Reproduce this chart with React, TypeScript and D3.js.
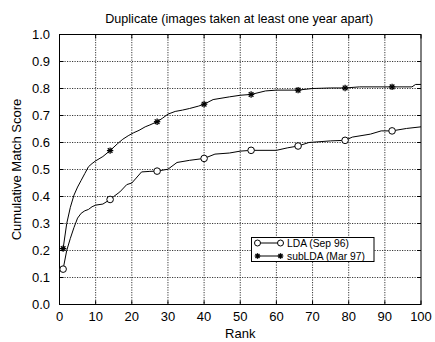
import React from "react";
import * as d3 from "d3";

const title = "Duplicate (images taken at least one year apart)";
const xLabel = "Rank";
const yLabel = "Cumulative Match Score";
const xTicks = [0, 10, 20, 30, 40, 50, 60, 70, 80, 90, 100];
const yTicks = [0, 0.1, 0.2, 0.3, 0.4, 0.5, 0.6, 0.7, 0.8, 0.9, 1.0];
const markerRanks = [1, 14, 27, 40, 53, 66, 79, 92];

const ldaRanks = [1, 2, 3, 4, 5, 6, 7, 8, 9, 10, 12, 14, 15, 16.7, 18.6, 20, 21, 22.7, 25, 27, 30, 32.5, 36, 40, 43, 47, 50, 53, 60, 63, 66, 69, 75, 79, 81, 86, 89, 92, 96, 100];
const ldaValues = [0.131, 0.2, 0.245, 0.285, 0.32, 0.338, 0.347, 0.352, 0.362, 0.368, 0.372, 0.389, 0.4, 0.417, 0.444, 0.45, 0.465, 0.491, 0.493, 0.494, 0.501, 0.526, 0.534, 0.541, 0.557, 0.561, 0.568, 0.571, 0.571, 0.58, 0.587, 0.6, 0.606, 0.608, 0.62, 0.631, 0.643, 0.643, 0.652, 0.658];

const subRanks = [1, 2, 3, 4, 5, 6, 7, 8, 9, 10, 12, 14, 16, 17.5, 19, 20.5, 22, 23.7, 25, 27, 28.5, 30, 32, 34, 36, 38.5, 40, 42.5, 47, 50, 53, 57, 60, 66, 70, 75, 79, 83, 92, 97.5, 98.5, 100];
const subValues = [0.207, 0.3, 0.36, 0.405, 0.435, 0.46, 0.485, 0.51, 0.522, 0.532, 0.548, 0.57, 0.595, 0.612, 0.625, 0.636, 0.645, 0.658, 0.665, 0.677, 0.69, 0.705, 0.715, 0.72, 0.726, 0.735, 0.742, 0.759, 0.769, 0.775, 0.778, 0.791, 0.794, 0.794, 0.8, 0.802, 0.802, 0.806, 0.806, 0.806, 0.815, 0.815];

const legendLabels = ["LDA (Sep 96)", "subLDA (Mar 97)"];

const W = 435;
const H = 342;
const FONT = "Liberation Sans, Arial, Helvetica, sans-serif";

function valueAt(ranks: number[], vals: number[], r: number) {
  const i = ranks.indexOf(r);
  if (i >= 0) return vals[i];
  const j = d3.bisectLeft(ranks, r);
  const t = (r - ranks[j - 1]) / (ranks[j] - ranks[j - 1]);
  return vals[j - 1] + t * (vals[j] - vals[j - 1]);
}

function Asterisk({ x, y, s = 3.2 }: { x: number; y: number; s?: number }) {
  const d = s * 0.72;
  return (
    <g stroke="#000" strokeWidth={1.3}>
      <line x1={x - s} y1={y} x2={x + s} y2={y} />
      <line x1={x} y1={y - s} x2={x} y2={y + s} />
      <line x1={x - d} y1={y - d} x2={x + d} y2={y + d} />
      <line x1={x - d} y1={y + d} x2={x + d} y2={y - d} />
    </g>
  );
}

export default function App() {
  const x = d3.scaleLinear().domain([0, 100]).range([59.5, 421]);
  const y = d3.scaleLinear().domain([0, 1]).range([304.5, 34.5]);
  const line = d3
    .line<[number, number]>()
    .x((d) => x(d[0]))
    .y((d) => y(d[1]));
  const ldaPts = ldaRanks.map((r, i) => [r, ldaValues[i]] as [number, number]);
  const subPts = subRanks.map((r, i) => [r, subValues[i]] as [number, number]);

  const x0 = x(0), x1 = x(100), y0 = y(0), y1 = y(1);

  const lgX = 251.5, lgY = 237.5, lgW = 122.5, lgH = 24;
  const row1 = 243, row2 = 256;
  const mA = 257.5, mB = 280.5;

  return (
    <svg width={W} height={H} style={{ position: "absolute", left: 0, top: 0, background: "#fff" }} fontFamily={FONT}>
      <rect x={0} y={0} width={W} height={H} fill="#fff" />
      <text x={(x0 + x1) / 2 - 1} y={22.5} textAnchor="middle" fontSize={12.6}>{title}</text>
      {/* grid */}
      <g stroke="#222" strokeWidth={0.9} strokeDasharray="1.2,1.3">
        {xTicks.slice(1, -1).map((t) => (
          <line key={"gx" + t} x1={x(t)} x2={x(t)} y1={y1} y2={y0} />
        ))}
        {yTicks.slice(1, -1).map((t) => (
          <line key={"gy" + t} x1={x0} x2={x1} y1={y(t)} y2={y(t)} />
        ))}
      </g>
      {/* ticks */}
      <g stroke="#000" strokeWidth={1}>
        {xTicks.map((t) => (
          <g key={"tx" + t}>
            <line x1={x(t)} x2={x(t)} y1={y0} y2={y0 - 4} />
            <line x1={x(t)} x2={x(t)} y1={y1} y2={y1 + 4} />
          </g>
        ))}
        {yTicks.map((t) => (
          <g key={"ty" + t}>
            <line x1={x0} x2={x0 + 4} y1={y(t)} y2={y(t)} />
            <line x1={x1} x2={x1 - 4} y1={y(t)} y2={y(t)} />
          </g>
        ))}
      </g>
      <rect x={x0} y={y1} width={x1 - x0} height={y0 - y1} fill="none" stroke="#000" strokeWidth={1} />
      {/* tick labels */}
      <g fontSize={13} fill="#000">
        {xTicks.map((t) => (
          <text key={"lx" + t} x={x(t)} y={321} textAnchor="middle">{t}</text>
        ))}
        {yTicks.map((t) => (
          <text key={"ly" + t} x={50} y={y(t) + 4.5} textAnchor="end">{t.toFixed(1)}</text>
        ))}
      </g>
      <text x={(x0 + x1) / 2} y={338} textAnchor="middle" fontSize={13}>{xLabel}</text>
      <text transform={`translate(21,${(y0 + y1) / 2}) rotate(-90)`} textAnchor="middle" fontSize={13}>{yLabel}</text>
      {/* lines */}
      <path d={line(ldaPts) || ""} fill="none" stroke="#000" strokeWidth={1} />
      <path d={line(subPts) || ""} fill="none" stroke="#000" strokeWidth={1} />
      {markerRanks.map((r) => (
        <circle key={"c" + r} cx={x(r)} cy={y(valueAt(ldaRanks, ldaValues, r))} r={3.3} fill="#fff" stroke="#000" strokeWidth={1} />
      ))}
      {markerRanks.map((r) => (
        <Asterisk key={"s" + r} x={x(r)} y={y(valueAt(subRanks, subValues, r))} />
      ))}
      {/* legend */}
      <rect x={lgX} y={lgY} width={lgW} height={lgH} fill="#fff" stroke="#000" strokeWidth={1} />
      <line x1={mA} x2={mB} y1={row1} y2={row1} stroke="#000" strokeWidth={1} />
      <circle cx={mA} cy={row1} r={3} fill="#fff" stroke="#000" />
      <circle cx={mB} cy={row1} r={3} fill="#fff" stroke="#000" />
      <line x1={mA} x2={mB} y1={row2} y2={row2} stroke="#000" strokeWidth={1} />
      <Asterisk x={mA} y={row2} s={2.8} />
      <Asterisk x={mB} y={row2} s={2.8} />
      <text x={287} y={row1 + 3.8} fontSize={10.3}>{legendLabels[0]}</text>
      <text x={287} y={row2 + 3.8} fontSize={10.3}>{legendLabels[1]}</text>
    </svg>
  );
}
